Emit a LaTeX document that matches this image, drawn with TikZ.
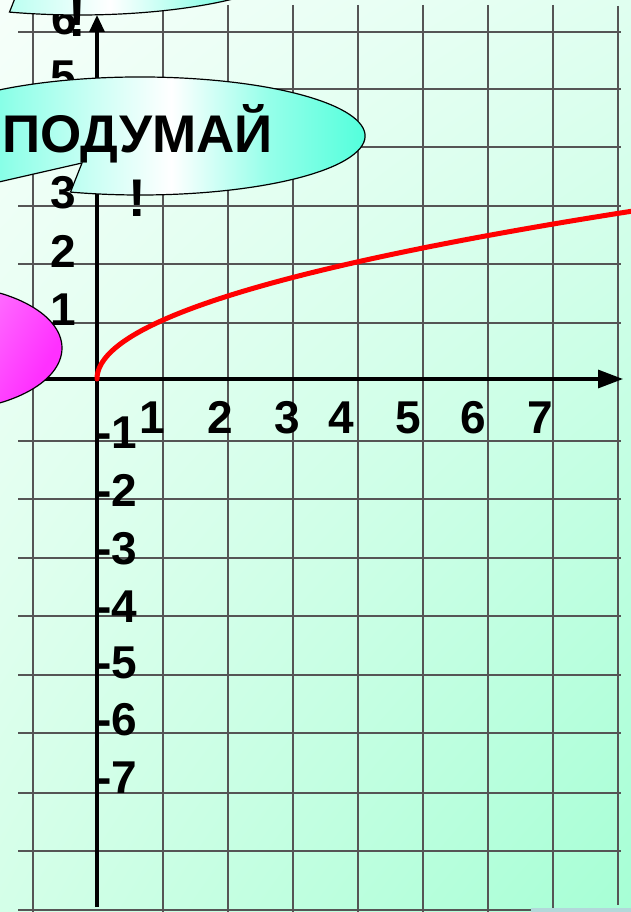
\documentclass[tikz,border=0pt]{standalone}
\usepackage{fontspec}
\setmainfont{Liberation Sans}
\usetikzlibrary{arrows.meta,shadings}
\definecolor{bgTL}{HTML}{F6FFFA}
\definecolor{bgTR}{HTML}{E0FFF0}
\definecolor{bgBL}{HTML}{D4FFE8}
\definecolor{bgBR}{HTML}{A6FFD5}
\definecolor{gridc}{HTML}{555555}
\definecolor{aqua}{HTML}{40FFD8}
\colorlet{aquaM}{aqua!55!white}
\colorlet{aquaL}{aqua!20!white}
\definecolor{magentaA}{HTML}{FF30FF}
\definecolor{pinkL}{HTML}{FFC8FF}
\definecolor{stripc}{HTML}{B2D8DA}
\pgfdeclarehorizontalshading{callshade}{100bp}{color(0bp)=(aqua); color(25bp)=(aqua); color(36bp)=(aquaM); color(46bp)=(aquaL); color(52bp)=(white); color(62bp)=(aquaM); color(75bp)=(aqua); color(100bp)=(aqua)}
\tikzset{
  gridline/.style={draw=gridc, line width=2.4pt},
  axisline/.style={draw=black, line width=3.2pt},
  numlbl/.style={font=\fontsize{46}{46}\selectfont\bfseries, inner sep=0pt, anchor=base},
  neglbl/.style={font=\fontsize{46}{46}\selectfont\bfseries, inner sep=0pt, anchor=base west},
  callout/.style={draw=black, line width=1.2pt, shading=callshade},
  calltext/.style={font=\fontsize{53}{64}\selectfont\bfseries, inner sep=0pt, anchor=base},
  pinkshape/.style={draw=black, line width=1.2pt, left color=pinkL, right color=magentaA, shading angle=60}
}
\begin{document}
\begin{tikzpicture}[x=1pt,y=1pt]
\useasboundingbox (0,0) rectangle (631,-912);
\clip (0,0) rectangle (631,-912);
% background
\shade[upper left=bgTL, upper right=bgTR, lower left=bgBL, lower right=bgBR] (0,0) rectangle (631,-912);
% grid
\foreach \gx in {33,163,228,293,358,423,488,553} \draw[gridline] (\gx,-5) -- (\gx,-912);
\draw[gridline] (618,-6) -- (618,-905);
\foreach \gy in {32,89,147,206,264,323,441,499,558,616,675,733,793,851} \draw[gridline] (18,-\gy) -- (621,-\gy);
\draw[gridline] (18,-910) -- (531,-910);
\fill[stripc] (531,-908) rectangle (631,-912);
% axes
\coordinate (xs) at (18,-379);
\coordinate (xe) at (623,-379);
\coordinate (ys) at (97,-907);
\coordinate (ye) at (97,-15);
\draw[axisline, -{Triangle[length=25pt,width=18pt]}] (xs) -- (xe);
\draw[axisline, -{Triangle[length=17pt,width=15pt]}] (ys) -- (ye);
% curve y = sqrt(x)
\draw[red, line width=5pt, line cap=round, domain=0:2.9, samples=80, smooth] plot ({97+65*\x*\x}, {-379+58.5*\x});
% x labels
\node[numlbl] (x1) at (152,-433) {1};
\node[numlbl] (x2) at (220,-433) {2};
\node[numlbl] (x3) at (287,-433) {3};
\node[numlbl] (x4) at (341,-433) {4};
\node[numlbl] (x5) at (408,-433) {5};
\node[numlbl] (x6) at (473,-433) {6};
\node[numlbl] (x7) at (540,-433) {7};
% positive y labels
\node[numlbl] (y1) at (63,-325) {1};
\node[numlbl] (y2) at (63,-267) {2};
\node[numlbl] (y3) at (63,-208) {3};
\node[numlbl] (y4) at (63,-150) {4};
\node[numlbl] (y5) at (63,-93) {5};
\node[numlbl] (y6) at (64,-35) {6};
% negative y labels
\node[neglbl] (n1) at (96,-448) {-1};
\node[neglbl] (n2) at (96,-506) {-2};
\node[neglbl] (n3) at (96,-564) {-3};
\node[neglbl] (n4) at (96,-622) {-4};
\node[neglbl] (n5) at (96,-678) {-5};
\node[neglbl] (n6) at (96,-735) {-6};
\node[neglbl] (n7) at (96,-793) {-7};
% pink shape
\path[pinkshape] (-60,-348) ellipse [x radius=122, y radius=63];
% top callout (mostly off the picture)
\begin{scope}[shift={(-61,180)}]
\path[callout] (70.5,-192.1) arc[start angle=252, end angle=550, x radius=225, y radius=59] -- (-80,-200) -- (82,-163) -- cycle;
\node[calltext] (ex1) at (138,-217) {!};
\end{scope}
% main callout
\path[callout] (70.5,-192.1) arc[start angle=252, end angle=550, x radius=225, y radius=59] -- (-80,-200) -- (82,-163) -- cycle;
\node[calltext] (think) at (137.5,-153) {\begin{tabular}[t]{@{}c@{}}ПОДУМАЙ\\!\end{tabular}};
\end{tikzpicture}
\end{document}
